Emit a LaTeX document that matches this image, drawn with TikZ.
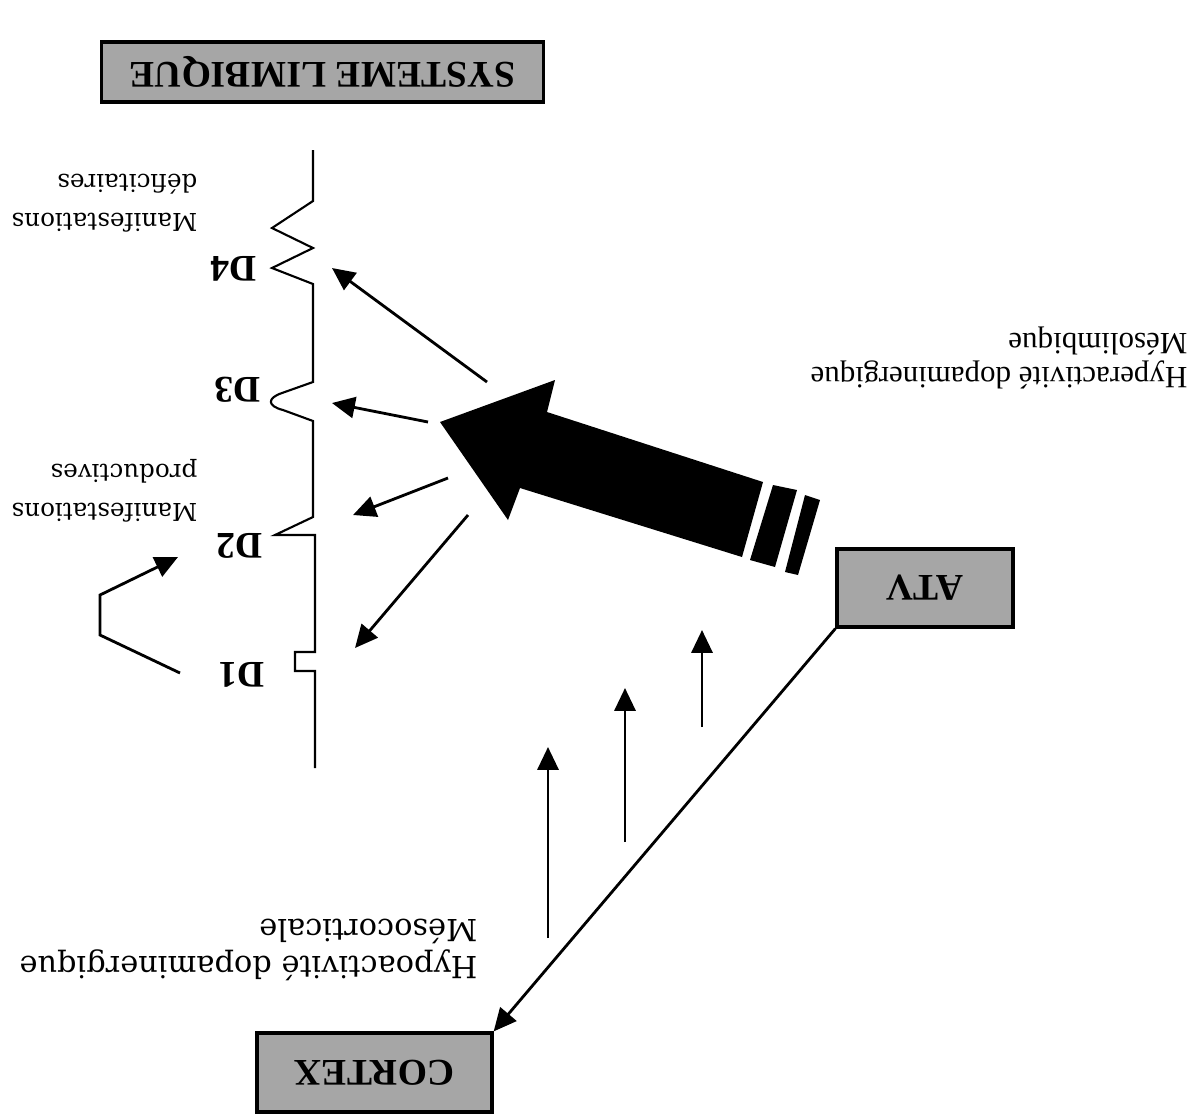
\documentclass[tikz,border=0pt]{standalone}
\usepackage{fontspec}
\setmainfont{Liberation Serif}
\newfontfamily\wideserif{DejaVu Serif}
\usetikzlibrary{arrows.meta}
\newcommand{\upside}[1]{\rotatebox[origin=c]{180}{#1}}

\begin{document}
\begin{tikzpicture}[x=0.01cm,y=-0.01cm]
\useasboundingbox (0,0) rectangle (1200,1117);

\tikzset{
box/.style={draw,line width=0.9pt,fill=black!35,inner sep=0pt},
tag/.style={font=\fontsize{10.7}{12}\selectfont\bfseries},
note/.style={rotate=180,align=left,inner sep=0pt,anchor=west},
arr/.style={line width=0.8pt,-{Triangle[length=6.5pt,width=6pt]}}
}

% boxes (the whole figure is upside down)
\node[box,minimum width=4.41cm,minimum height=0.6cm] (limbique) at (322.5,72)
{\upside{\fontsize{10.7}{12}\selectfont\bfseries SYSTEME LIMBIQUE}};
\node[box,minimum width=2.35cm,minimum height=0.79cm] (cortex) at (374.5,1072.5)
{\upside{\fontsize{10.7}{12}\selectfont\bfseries CORTEX}};
\node[box,minimum width=1.76cm,minimum height=0.78cm] (atv) at (925,588)
{\upside{\fontsize{10.7}{12}\selectfont\bfseries ATV}};

\draw[arr] (atv.south west) -- (cortex.north east);

% texts
\node[note,font=\wideserif\fontsize{8.65}{10.5}\selectfont] (hypo) at (478,950)
{Hypoactivit\'e dopaminergique\\M\'esocorticale};
\node[note,font=\fontsize{8.8}{9.6}\selectfont] (hyper) at (1188,358)
{Hyperactivit\'e dopaminergique\\M\'esolimbique};
\node[note,font=\wideserif\fontsize{7}{11}\selectfont] (deficit) at (198,203)
{Manifestations\\d\'eficitaires};
\node[note,font=\wideserif\fontsize{7}{11}\selectfont] (product) at (198,491)
{Manifestations\\productives};

\node[tag,rotate=180] (d4) at (234,269) {D4};
\node[tag,rotate=180] (d3) at (238,390) {D3};
\node[tag,rotate=180] (d2) at (240,546) {D2};
\node[tag,rotate=180] (d1) at (242,675) {D1};

% membrane with the four receptors
\draw[line width=0.6pt] (313,150) -- (313,201) -- (272,228) -- (313,248) -- (272,268)
-- (313,284) -- (313,382) -- (282,393) .. controls (267,398) and (267,406) .. (283,410)
-- (313,421) -- (313,517) -- (275,535) -- (315,535) -- (315,652) -- (295,652)
-- (295,671) -- (315,671) -- (315,768);

% big arrow
\fill (440,422) -- (555,380) -- (547,412) -- (763,482) -- (742,557) -- (520,488)
-- (508,520) -- cycle;
\fill (773,485) -- (797,490) -- (775,567) -- (750,560) -- cycle;
\fill (805,495) -- (820,500) -- (798,575) -- (785,572) -- cycle;

% fan towards the receptors
\coordinate (f4) at (487,382);
\coordinate (f3) at (428,422);
\coordinate (f2) at (448,478);
\coordinate (f1) at (468,515);
\coordinate (r4) at (332,268);
\coordinate (r3) at (332,403);
\coordinate (r2) at (353,515);
\coordinate (r1) at (355,648);
\foreach \i in {1,...,4} {
\draw[arr] (f\i) -- (r\i);
}

% D1 -> D2
\coordinate (d1out) at (180,673);
\coordinate (d2in) at (178,557);
\draw[arr] (d1out) -- (100,635) -- (100,595) -- (d2in);

% small upward arrows
\foreach \i/\x/\ya/\yb in {1/548/938/747,2/625/842/688,3/702/727/630} {
\coordinate (low\i) at (\x,\ya);
\coordinate (high\i) at (\x,\yb);
\draw[arr] (low\i) -- (high\i);
}
\end{tikzpicture}
\end{document}
